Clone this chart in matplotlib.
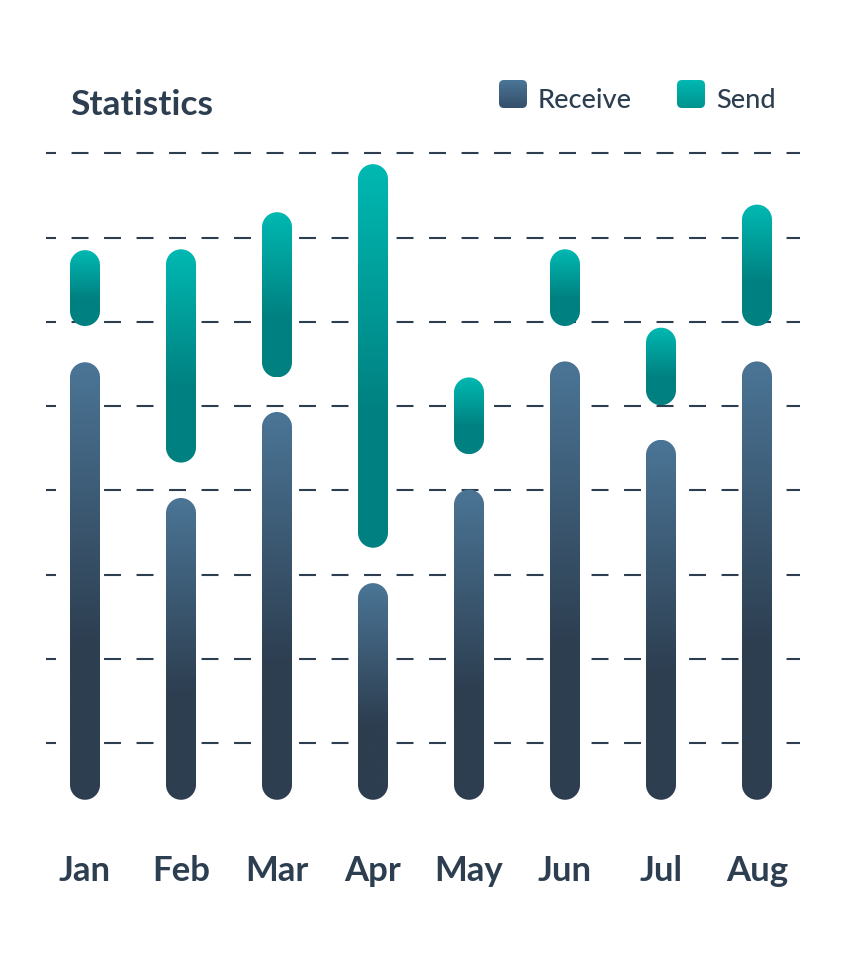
import numpy as np
import matplotlib
matplotlib.use('Agg')
import matplotlib.pyplot as plt
from matplotlib.patches import FancyBboxPatch, PathPatch
from matplotlib.path import Path
from matplotlib.colors import to_rgb

plt.rcParams['font.family'] = ['Lato', 'DejaVu Sans']
plt.rcParams['lines.scale_dashes'] = False

# Chart data
months = ['Jan', 'Feb', 'Mar', 'Apr', 'May', 'Jun', 'Jul', 'Aug']
receive_low = [3.3, 3.3, 3.3, 3.3, 3.3, 3.3, 3.3, 3.3]
receive_high = [55.2, 39.1, 49.3, 29.0, 40.1, 55.3, 46.0, 55.3]
send_low = [59.5, 43.3, 53.4, 33.2, 44.3, 59.5, 50.1, 59.5]
send_high = [68.5, 68.6, 73.0, 78.7, 53.4, 68.6, 59.3, 73.9]
grid_values = [10, 20, 30, 40, 50, 60, 70, 80]

text_color = '#2c3e50'
receive_colors = ('#4b7596', '#2d3e50')
send_colors = ('#00b9b2', '#008080')

# Layout in pixels
W, H = 855, 969
ax_l, ax_r, ax_t, ax_b = 46, 800, 140, 827.6
first_bar_px, bar_step_px = 85, 96
px_per_unit = 8.43
bar_px = 30

fig = plt.figure(figsize=(W / 100, H / 100), dpi=100)
ax = fig.add_axes([ax_l / W, (H - ax_b) / H, (ax_r - ax_l) / W, (ax_b - ax_t) / H])

xlim = ((ax_l - first_bar_px) / bar_step_px, (ax_r - first_bar_px) / bar_step_px)
ylim = (0, (ax_b - ax_t) / px_per_unit)
bar_w = bar_px / bar_step_px
asp = bar_step_px / px_per_unit


def gradient(c_top, c_bot, n=256, stop=0.65):
    s = np.linspace(0, 1, n)
    t = np.clip(s / stop, 0, 1)[:, None, None]
    top = np.array(to_rgb(c_top))[None, None, :]
    bot = np.array(to_rgb(c_bot))[None, None, :]
    return top * (1 - t) + bot * t


def pill_path(xc, lo, hi):
    rx = bar_w / 2
    ry = rx * asp
    a = np.linspace(0, np.pi, 40)
    top = np.column_stack([xc + rx * np.cos(a), hi - ry + ry * np.sin(a)])
    bot = np.column_stack([xc - rx * np.cos(a), lo + ry - ry * np.sin(a)])
    verts = np.vstack([top, bot, top[:1]])
    return Path(verts, closed=True)


def pill(ax, xc, lo, hi, colors):
    patch = PathPatch(pill_path(xc, lo, hi), fc='none', ec='none', zorder=3)
    ax.add_patch(patch)
    im = ax.imshow(gradient(*colors), extent=(xc - bar_w / 2, xc + bar_w / 2, lo, hi),
                   origin='upper', aspect='auto', interpolation='bilinear', zorder=3)
    im.set_clip_path(patch)


# dashed grid
for g in grid_values:
    ax.axhline(g, color=text_color, lw=1.5, linestyle=(5, (12.2, 11.2)), zorder=1)

x = np.arange(len(months))
for i in x:
    pill(ax, i, receive_low[i], receive_high[i], receive_colors)
    pill(ax, i, send_low[i], send_high[i], send_colors)

ax.set_xlim(*xlim)
ax.set_ylim(*ylim)
ax.set_xticks(x, months)
ax.set_yticks([])
ax.tick_params(axis='x', length=0, pad=20, labelsize=25, labelcolor=text_color)
for lbl in ax.get_xticklabels():
    lbl.set_fontweight('bold')
for sp in ax.spines.values():
    sp.set_visible(False)

# title and legend in pixel coordinates
ov = fig.add_axes([0, 0, 1, 1])
ov.set_xlim(0, W)
ov.set_ylim(H, 0)
ov.axis('off')

ov.text(70, 115, 'Statistics', fontsize=25.5, fontweight='bold', color=text_color,
        va='baseline', ha='left')

legend_items = [('Receive', 499, ('#4b7596', '#34506a')), ('Send', 677, ('#00b9b2', '#00928e'))]
for name, lx, cols in legend_items:
    sq = FancyBboxPatch((lx, 80), 28, 28, boxstyle='round,pad=0,rounding_size=5',
                        fc='none', ec='none')
    ov.add_patch(sq)
    im = ov.imshow(gradient(cols[0], cols[1], stop=1.0), extent=(lx, lx + 28, 108, 80),
                   origin='upper', aspect='auto', interpolation='bilinear')
    im.set_clip_path(sq)
    ov.text(lx + 39, 108, name, fontsize=19.5, fontweight='medium', color=text_color,
            va='baseline', ha='left')
ov.set_xlim(0, W)
ov.set_ylim(H, 0)

fig.savefig('out.png', dpi=100)
